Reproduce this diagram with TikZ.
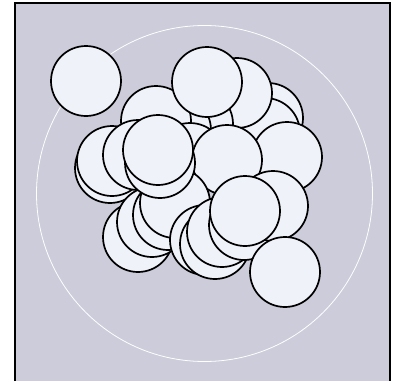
\documentclass[tikz,border=0pt]{standalone}
\begin{document}
\begin{tikzpicture}[x=1pt,y=-1pt,
  disc/.style={draw=black,line width=1.7pt,fill=discfill},
  frame/.style={draw=black,line width=1.3pt}]
\definecolor{bgfill}{RGB}{204,204,218}
\definecolor{discfill}{RGB}{240,242,250}
\useasboundingbox (0,0) rectangle (397,381);
\fill[white] (0,0) rectangle (397,381);
\fill[bgfill] (15,3) rectangle (390,381);
\draw[white,line width=0.8pt] (204.5,193.5) circle[radius=168];
\draw[frame] (15,381) -- (15,3) -- (390,3) -- (390,381);
% bottom layer
\foreach \x/\y in {268/118, 265/133, 237/93, 198/124, 176/130, 156/121,
  110/168, 112/161, 138/155, 287/157, 190/158, 227/160,
  138/237, 152/222, 168/215, 175/203, 205/240, 215/244, 222/232,
  244/225, 273/206, 285/272, 245/211, 160/163, 158/150, 207/82, 86/81}
  \draw[disc] (\x,\y) circle[radius=35];
\end{tikzpicture}
\end{document}
